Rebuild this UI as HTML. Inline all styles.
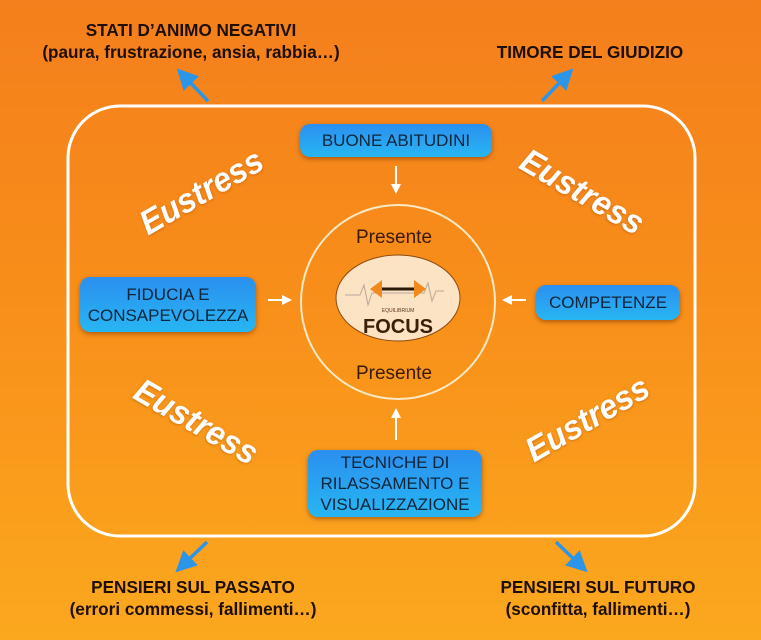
<!DOCTYPE html>
<html><head><meta charset="utf-8"><style>
html,body{margin:0;padding:0}
body{width:761px;height:640px;overflow:hidden;position:relative;background:linear-gradient(180deg,#f47f1c 0%,#f88e1a 45%,#fba81e 100%);font-family:"Liberation Sans",sans-serif}
.lbl{position:absolute;font-weight:bold;color:#1e0f05;font-size:17.5px;line-height:22px;text-align:center;white-space:nowrap;transform:translateX(-50%) scaleX(0.98)}
.box{position:absolute;background:linear-gradient(180deg,#2b8ff0 0%,#27b6f2 100%);border-radius:10px;box-shadow:0 2px 5px rgba(120,50,0,.55);color:#10243a;font-size:17px;line-height:21px;text-align:center;display:flex;align-items:center;justify-content:center;white-space:nowrap}
.eu{position:absolute;color:#fff;font-weight:bold;font-style:italic;font-size:34px;white-space:nowrap;transform-origin:center;text-shadow:0 1px 3px rgba(150,60,0,.4)}
</style></head><body>
<svg width="761" height="640" style="position:absolute;left:0;top:0">
<defs>
<marker id="b" markerWidth="6" markerHeight="6" refX="3" refY="3" orient="auto" markerUnits="strokeWidth"><path d="M0,0 L6,3 L0,6 z" fill="#2b95e8"/></marker>
<marker id="w" markerWidth="5" markerHeight="5" refX="3" refY="2.5" orient="auto" markerUnits="strokeWidth"><path d="M0,0 L5,2.5 L0,5 z" fill="#fff"/></marker>
</defs>
<rect x="68" y="106" width="627" height="430" rx="52" fill="none" stroke="#fff" stroke-width="3"/>
<circle cx="398" cy="302" r="97" fill="none" stroke="#fde9c5" stroke-width="2"/>
<ellipse cx="398" cy="298" rx="62" ry="43" fill="#fbe3c4" stroke="#8a4a10" stroke-width="1"/>
<path d="M345,295 h15 l4,-10 l4,20 l4,-12 h52 l4,-10 l4,18 l4,-10 h8" fill="none" stroke="#b9a89a" stroke-width="1"/>
<line x1="378" y1="289" x2="418" y2="289" stroke="#2a1a0a" stroke-width="3"/>
<path d="M370,289 l12,-9 v18 z M426,289 l-12,-9 v18 z" fill="#f08a1e"/>
<text x="398" y="312" font-size="5" text-anchor="middle" fill="#5a3a20" font-family="Liberation Sans">EQUILIBRIUM</text>
<text x="398" y="333" font-size="20" font-weight="bold" text-anchor="middle" fill="#3a2008" font-family="Liberation Sans">FOCUS</text>
<text x="394" y="243" font-size="19" text-anchor="middle" fill="#3a1a05" font-family="Liberation Sans">Presente</text>
<text x="394" y="379" font-size="19" text-anchor="middle" fill="#3a1a05" font-family="Liberation Sans">Presente</text>
<g stroke="#fff" stroke-width="2" marker-end="url(#w)">
<line x1="396" y1="166" x2="396" y2="190"/>
<line x1="268" y1="300" x2="288" y2="300"/>
<line x1="526" y1="300" x2="506" y2="300"/>
<line x1="396" y1="440" x2="396" y2="412"/>
</g>
<g stroke="#2b95e8" stroke-width="3.5" marker-end="url(#b)">
<line x1="208" y1="101" x2="184" y2="76"/>
<line x1="542" y1="101" x2="566" y2="76"/>
<line x1="207" y1="542" x2="183" y2="565"/>
<line x1="556" y1="542" x2="580" y2="565"/>
</g>
</svg>
<div class="lbl" style="left:191px;top:19px">STATI D’ANIMO NEGATIVI<br>(paura, frustrazione, ansia, rabbia…)</div>
<div class="lbl" style="left:590px;top:41px">TIMORE DEL GIUDIZIO</div>
<div class="lbl" style="left:193px;top:576px">PENSIERI SUL PASSATO<br>(errori commessi, fallimenti…)</div>
<div class="lbl" style="left:598px;top:576px">PENSIERI SUL FUTURO<br>(sconfitta, fallimenti…)</div>
<div class="box" style="left:300px;top:124px;width:192px;height:33px">BUONE ABITUDINI</div>
<div class="box" style="left:80px;top:277px;width:176px;height:55px">FIDUCIA E<br>CONSAPEVOLEZZA</div>
<div class="box" style="left:536px;top:285px;width:144px;height:35px">COMPETENZE</div>
<div class="box" style="left:308px;top:450px;width:174px;height:67px">TECNICHE DI<br>RILASSAMENTO E<br>VISUALIZZAZIONE</div>
<div class="eu" style="left:130px;top:173px;transform:rotate(-30deg) scaleX(0.95)">Eustress</div>
<div class="eu" style="left:510px;top:173px;transform:rotate(30deg) scaleX(0.95)">Eustress</div>
<div class="eu" style="left:124px;top:403px;transform:rotate(30deg) scaleX(0.95)">Eustress</div>
<div class="eu" style="left:516px;top:400px;transform:rotate(-30deg) scaleX(0.95)">Eustress</div>
</body></html>
